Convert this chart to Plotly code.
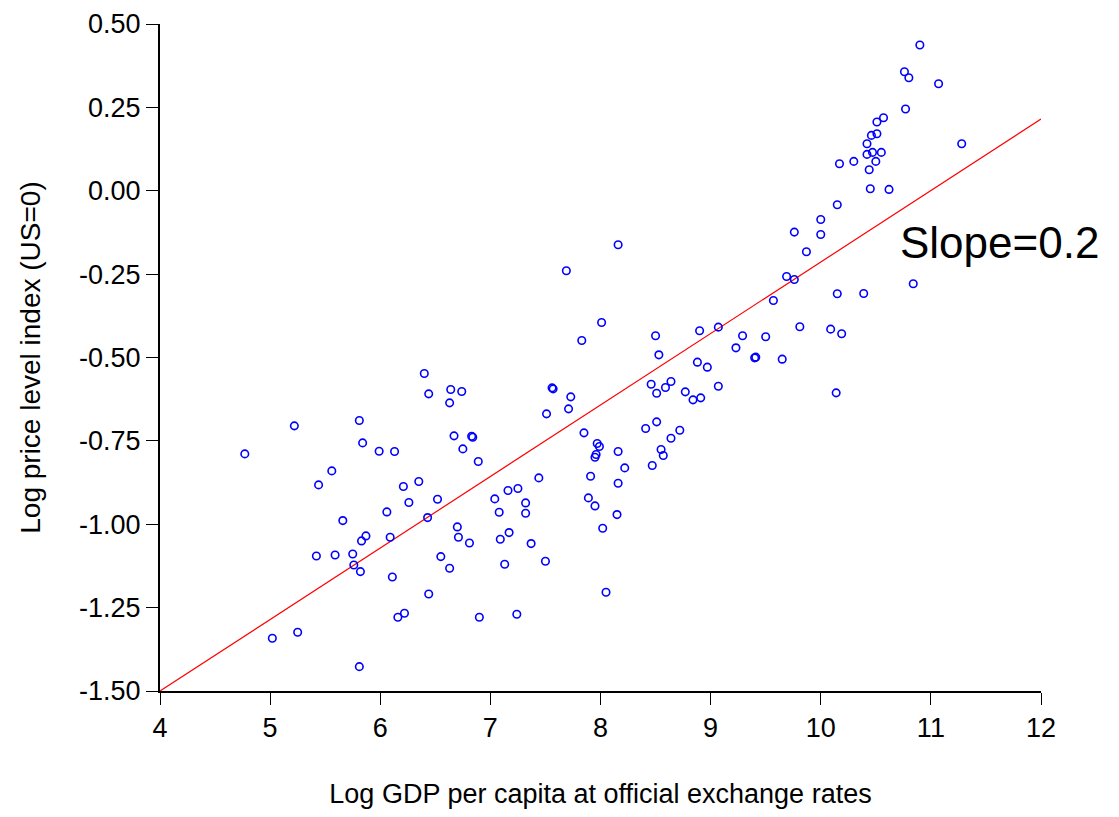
import plotly.graph_objects as go

# Log GDP per capita (x) and log price level (y)
gdp = [10.90, 10.76, 10.80, 11.07, 10.77, 10.57, 10.51, 10.51, 10.46, 10.42,
       10.42, 10.47, 10.55, 10.50, 10.44, 10.17, 10.30, 11.28, 10.45, 10.62,
       10.15, 10.00, 10.00, 9.87, 10.84, 10.15, 10.39, 9.81, 10.09, 10.19,
       10.14, 9.76, 9.69, 9.57, 9.65, 9.50, 9.29, 9.23, 9.40, 9.41,
       9.07, 8.90, 8.88, 8.97, 9.07, 8.46, 8.51, 8.59, 8.64, 8.77,
       8.84, 8.91, 8.50, 8.53, 8.41, 8.51, 8.72, 8.64, 8.55, 8.57,
       8.47, 8.16, 7.69, 8.01, 7.83, 7.56, 7.57, 7.73, 7.71, 7.51,
       7.85, 7.97, 7.99, 7.96, 7.95, 8.16, 8.22, 7.91, 8.16, 7.89,
       7.95, 8.15, 8.02, 7.44, 7.50, 8.05, 4.77, 5.22, 5.81, 5.84,
       5.99, 6.13, 5.56, 5.44, 5.66, 5.42, 5.59, 5.75, 5.76, 5.82,
       5.83, 5.87, 6.06, 6.09, 6.11, 6.16, 6.22, 6.21, 6.26, 6.35,
       6.40, 6.44, 6.64, 6.74, 6.63, 6.67, 6.83, 6.84, 6.75, 6.89,
       6.52, 6.43, 6.70, 6.71, 6.81, 6.55, 6.63, 6.44, 6.90, 7.24,
       7.04, 7.16, 7.25, 7.08, 7.32, 7.32, 7.09, 7.17, 7.37, 7.13,
       5.02, 5.25, 5.81, 9.76]
price = [0.437, 0.357, 0.339, 0.321, 0.245, 0.219, 0.206, 0.171, 0.166, 0.141,
         0.109, 0.115, 0.115, 0.088, 0.063, 0.081, 0.088, 0.141, 0.006, 0.004,
         -0.042, -0.086, -0.131, -0.183, -0.279, -0.309, -0.308, -0.408, -0.415, -0.429,
         -0.606, -0.266, -0.257, -0.329, -0.505, -0.438, -0.435, -0.471, -0.501, -0.499,
         -0.409, -0.420, -0.514, -0.529, -0.586, -0.580, -0.607, -0.590, -0.572, -0.603,
         -0.627, -0.621, -0.435, -0.492, -0.713, -0.693, -0.718, -0.742, -0.776, -0.794,
         -0.824, -0.162, -0.240, -0.395, -0.449, -0.591, -0.594, -0.618, -0.654, -0.669,
         -0.726, -0.758, -0.767, -0.791, -0.799, -0.782, -0.831, -0.856, -0.877, -0.921,
         -0.945, -0.971, -1.012, -0.861, -1.111, -1.204, -0.789, -0.705, -0.689, -0.756,
         -0.781, -0.782, -0.840, -0.882, -0.989, -1.095, -1.092, -1.089, -1.122, -1.142,
         -1.050, -1.035, -0.963, -1.039, -1.158, -1.279, -1.267, -0.887, -0.935, -0.872,
         -0.548, -0.609, -0.596, -0.602, -0.636, -0.735, -0.736, -0.739, -0.774, -0.812,
         -0.925, -0.980, -1.008, -1.039, -1.056, -1.097, -1.132, -1.209, -1.279, -1.270,
         -0.924, -0.899, -0.893, -0.964, -0.936, -0.967, -1.045, -1.025, -1.058, -1.120,
         -1.342, -1.324, -1.427, -0.124]

# Fitted line endpoints (slope ~0.2)
fit_x = [4.0, 12.0]
fit_y = [-1.50, 0.215]

x_ticks = [4, 5, 6, 7, 8, 9, 10, 11, 12]
y_ticks = [0.50, 0.25, 0.00, -0.25, -0.50, -0.75, -1.00, -1.25, -1.50]
y_tick_labels = ["0.50", "0.25", "0.00", "-0.25", "-0.50", "-0.75", "-1.00", "-1.25", "-1.50"]

FONT = "Liberation Sans, Arial, sans-serif"

fig = go.Figure()
fig.add_trace(go.Scatter(
    x=fit_x, y=fit_y, mode="lines",
    line=dict(color="#ff0000", width=1.2),
    showlegend=False, hoverinfo="skip", cliponaxis=False))
fig.add_trace(go.Scatter(
    x=gdp, y=price, mode="markers",
    marker=dict(symbol="circle-open", size=7.5, color="#0000ff",
                line=dict(width=1.6, color="#0000ff")),
    showlegend=False))

fig.add_annotation(x=11.62, y=-0.156, text="Slope=0.2", showarrow=False,
                   font=dict(family=FONT, size=44, color="black"),
                   xanchor="center", yanchor="middle")

# page body has an 8px margin, so the figure is sized/offset to compensate
fig.update_layout(
    width=1103, height=801,
    margin=dict(l=152, r=70, t=16, b=118, autoexpand=False),
    paper_bgcolor="white", plot_bgcolor="white",
    font=dict(family=FONT, color="black"),
    xaxis=dict(range=[4, 12], tickvals=x_ticks, ticktext=[str(v) for v in x_ticks],
               automargin=False,
               showgrid=False, zeroline=False, showline=True, linecolor="black",
               linewidth=2, ticks="outside", ticklen=12, tickwidth=1, tickcolor="black",
               tickfont=dict(family=FONT, size=27),
               title=dict(text="Log GDP per capita at official exchange rates",
                          font=dict(family=FONT, size=27), standoff=53)),
    yaxis=dict(range=[-1.5, 0.5], tickvals=y_ticks, ticktext=y_tick_labels,
               automargin=False,
               showgrid=False, zeroline=False, showline=True, linecolor="black",
               linewidth=2, ticks="outside", ticklen=12, tickwidth=1, tickcolor="black",
               tickfont=dict(family=FONT, size=27),
               title=dict(text="Log price level index (US=0)",
                          font=dict(family=FONT, size=28), standoff=30)),
)

fig.write_html("out.html")
